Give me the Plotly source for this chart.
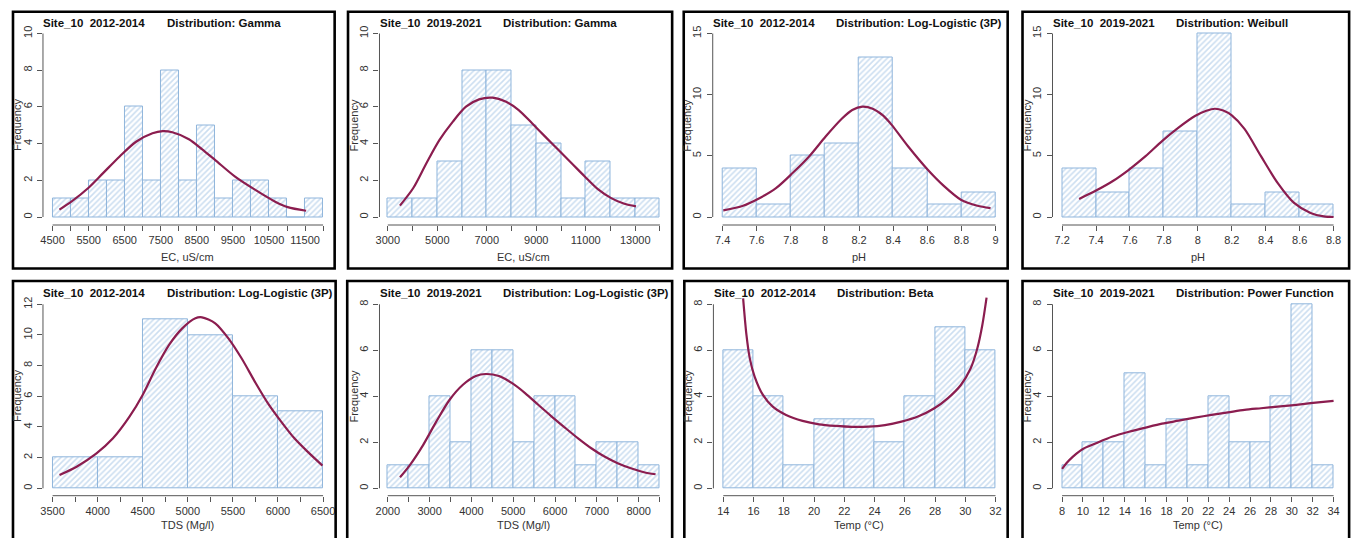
import plotly.graph_objects as go

# page body has an 8px default margin; figure is sized so it fills the 1371x538 window exactly
OFF = 8
W, H = 1371 - OFF, 538 - OFF

# ---------------- data ----------------
ec12_edges = [4500, 5000, 5500, 6000, 6500, 7000, 7500, 8000, 8500, 9000, 9500, 10000, 10500, 11000, 11500, 12000]
ec12_counts = [1, 1, 2, 2, 6, 2, 8, 2, 5, 1, 2, 2, 1, 0, 1]
ec12_curve_x = [4690, 5030, 5490, 5900, 6360, 6815, 7270, 7550, 7820, 8280, 8640, 9010, 9560, 10110, 10660, 11020, 11530]
ec12_curve_y = [0.40, 0.85, 1.58, 2.39, 3.30, 4.10, 4.56, 4.68, 4.62, 4.24, 3.70, 3.10, 2.20, 1.49, 0.85, 0.54, 0.34]

ec19_edges = [3000, 4000, 5000, 6000, 7000, 8000, 9000, 10000, 11000, 12000, 13000, 14000]
ec19_counts = [1, 1, 3, 8, 8, 5, 4, 1, 3, 1, 1]
ec19_curve_x = [3490, 4030, 4560, 5090, 5630, 6160, 6690, 7230, 7760, 8290, 8830, 9360, 9890, 10430, 10960, 11490, 12030, 12560, 13030]
ec19_curve_y = [0.62, 1.58, 2.93, 4.20, 5.20, 6.01, 6.41, 6.50, 6.29, 5.83, 5.11, 4.38, 3.66, 2.93, 2.21, 1.52, 1.03, 0.72, 0.58]

ph12_edges = [7.4, 7.6, 7.8, 8.0, 8.2, 8.4, 8.6, 8.8, 9.0]
ph12_counts = [4, 1, 5, 6, 13, 4, 1, 2]
ph12_curve_x = [7.404, 7.52, 7.607, 7.713, 7.81, 7.907, 8.004, 8.10, 8.16, 8.22, 8.28, 8.34, 8.39, 8.487, 8.603, 8.70, 8.797, 8.894, 8.971]
ph12_curve_y = [0.54, 0.92, 1.47, 2.36, 3.59, 4.95, 6.58, 8.05, 8.75, 9.02, 8.85, 8.30, 7.55, 5.78, 3.86, 2.50, 1.41, 0.92, 0.73]

ph19_edges = [7.2, 7.4, 7.6, 7.8, 8.0, 8.2, 8.4, 8.6, 8.8]
ph19_counts = [4, 2, 4, 7, 15, 1, 2, 1]
ph19_curve_x = [7.30, 7.40, 7.497, 7.595, 7.692, 7.789, 7.886, 7.983, 8.05, 8.10, 8.15, 8.20, 8.275, 8.372, 8.47, 8.567, 8.664, 8.742, 8.80]
ph19_curve_y = [1.48, 2.16, 2.92, 3.88, 4.97, 6.20, 7.30, 8.25, 8.68, 8.85, 8.70, 8.30, 7.20, 4.97, 2.79, 1.15, 0.33, 0.05, 0.0]

tds12_edges = [3500, 4000, 4500, 5000, 5500, 6000, 6500]
tds12_counts = [2, 2, 11, 10, 6, 5]
tds12_curve_x = [3577, 3767, 3987, 4170, 4353, 4499, 4645, 4792, 4938, 5084, 5157, 5304, 5450, 5596, 5743, 5889, 6035, 6182, 6328, 6493]
tds12_curve_y = [0.87, 1.41, 2.28, 3.26, 4.67, 6.09, 7.83, 9.35, 10.43, 11.09, 11.15, 10.76, 9.78, 8.48, 6.96, 5.54, 4.35, 3.26, 2.39, 1.48]

tds19_edges = [2000, 2500, 3000, 3500, 4000, 4500, 5000, 5500, 6000, 6500, 7000, 7500, 8000, 8500]
tds19_counts = [1, 1, 4, 2, 6, 6, 2, 4, 4, 1, 2, 2, 1]
tds19_curve_x = [2292, 2528, 2844, 3159, 3475, 3790, 4106, 4342, 4658, 4973, 5289, 5604, 5920, 6235, 6551, 6866, 7182, 7497, 7813, 8128, 8404]
tds19_curve_y = [0.48, 1.01, 1.88, 2.90, 3.84, 4.49, 4.88, 4.97, 4.88, 4.57, 4.13, 3.62, 3.12, 2.64, 2.17, 1.74, 1.38, 1.09, 0.87, 0.70, 0.61]

temp12_edges = [14, 16, 18, 20, 22, 24, 26, 28, 30, 32]
temp12_counts = [6, 4, 1, 3, 3, 2, 4, 7, 6]
temp12_curve_x = [15.31, 15.53, 15.75, 16.07, 16.62, 17.27, 18.15, 19.24, 20.33, 21.42, 22.51, 23.6, 24.69, 25.78, 26.87, 27.96, 28.84, 29.71, 30.36, 30.8, 31.13, 31.41]
temp12_curve_y = [8.26, 6.67, 5.65, 4.86, 4.06, 3.55, 3.19, 2.93, 2.78, 2.71, 2.67, 2.68, 2.75, 2.90, 3.12, 3.48, 3.91, 4.49, 5.22, 6.09, 7.10, 8.29]

temp19_edges = [8, 10, 12, 14, 16, 18, 20, 22, 24, 26, 28, 30, 32, 34]
temp19_counts = [1, 2, 2, 5, 1, 3, 1, 4, 2, 2, 4, 8, 1]
temp19_curve_x = [8.0, 8.41, 9.04, 9.99, 11.25, 12.83, 14.41, 16.0, 17.57, 19.15, 20.73, 22.31, 23.89, 25.47, 27.05, 28.63, 30.21, 31.79, 34.0]
temp19_curve_y = [0.84, 1.09, 1.38, 1.71, 1.96, 2.25, 2.46, 2.64, 2.81, 2.94, 3.07, 3.19, 3.30, 3.41, 3.48, 3.55, 3.62, 3.70, 3.80]

site_titles = ["Site_10\u00a0\u00a02012-2014", "Site_10\u00a0\u00a02019-2021", "Site_10\u00a0\u00a02012-2014", "Site_10\u00a0\u00a02019-2021",
               "Site_10\u00a0\u00a02012-2014", "Site_10\u00a0\u00a02019-2021", "Site_10\u00a0\u00a02012-2014", "Site_10\u00a0\u00a02019-2021"]
dist_titles = ["Distribution: Gamma", "Distribution: Gamma", "Distribution: Log-Logistic (3P)", "Distribution: Weibull",
               "Distribution: Log-Logistic (3P)", "Distribution: Log-Logistic (3P)", "Distribution: Beta", "Distribution: Power Function"]
x_titles = ["EC, uS/cm", "EC, uS/cm", "pH", "pH", "TDS (Mg/l)", "TDS (Mg/l)", "Temp (\u00b0C)", "Temp (\u00b0C)"]
y_title = "Frequency"

ec12_ticks = [4500, 5500, 6500, 7500, 8500, 9500, 10500, 11500]
ec12_minor = [4500, 5000, 5500, 6000, 6500, 7000, 7500, 8000, 8500, 9000, 9500, 10000, 10500, 11000, 11500, 12000]
ec19_ticks = [3000, 5000, 7000, 9000, 11000, 13000]
ec19_minor = [3000, 4000, 5000, 6000, 7000, 8000, 9000, 10000, 11000, 12000, 13000, 14000]
ph12_ticks = [7.4, 7.6, 7.8, 8.0, 8.2, 8.4, 8.6, 8.8, 9.0]
ph12_ticktext = ["7.4", "7.6", "7.8", "8", "8.2", "8.4", "8.6", "8.8", "9"]
ph19_ticks = [7.2, 7.4, 7.6, 7.8, 8.0, 8.2, 8.4, 8.6, 8.8]
ph19_ticktext = ["7.2", "7.4", "7.6", "7.8", "8", "8.2", "8.4", "8.6", "8.8"]
tds12_ticks = [3500, 4000, 4500, 5000, 5500, 6000, 6500]
tds12_minor = [3500, 3750, 4000, 4250, 4500, 4750, 5000, 5250, 5500, 5750, 6000, 6250, 6500]
tds19_ticks = [2000, 3000, 4000, 5000, 6000, 7000, 8000]
tds19_minor = [2000, 2500, 3000, 3500, 4000, 4500, 5000, 5500, 6000, 6500, 7000, 7500, 8000, 8500]
temp12_ticks = [14, 16, 18, 20, 22, 24, 26, 28, 30, 32]
temp19_ticks = [8, 10, 12, 14, 16, 18, 20, 22, 24, 26, 28, 30, 32, 34]

y_max = [10, 10, 15, 15, 12, 8, 8, 8]
y_dtick = [2, 2, 5, 5, 2, 2, 2, 2]

panels = [
    (ec12_edges, ec12_counts, ec12_curve_x, ec12_curve_y, ec12_ticks, [str(v) for v in ec12_ticks], ec12_minor),
    (ec19_edges, ec19_counts, ec19_curve_x, ec19_curve_y, ec19_ticks, [str(v) for v in ec19_ticks], ec19_minor),
    (ph12_edges, ph12_counts, ph12_curve_x, ph12_curve_y, ph12_ticks, ph12_ticktext, None),
    (ph19_edges, ph19_counts, ph19_curve_x, ph19_curve_y, ph19_ticks, ph19_ticktext, None),
    (tds12_edges, tds12_counts, tds12_curve_x, tds12_curve_y, tds12_ticks, [str(v) for v in tds12_ticks], tds12_minor),
    (tds19_edges, tds19_counts, tds19_curve_x, tds19_curve_y, tds19_ticks, [str(v) for v in tds19_ticks], tds19_minor),
    (temp12_edges, temp12_counts, temp12_curve_x, temp12_curve_y, temp12_ticks, [str(v) for v in temp12_ticks], None),
    (temp19_edges, temp19_counts, temp19_curve_x, temp19_curve_y, temp19_ticks, [str(v) for v in temp19_ticks], None),
]

# ---------------- layout geometry (window pixels) ----------------
col_px = [
    (39.3, 49.0, 322.3), (379.3, 387.7, 662.7), (716.0, 726.0, 1001.7), (1059.3, 1069.0, 1343.3),
    (39.3, 49.0, 322.3), (379.3, 387.7, 662.3), (716.7, 726.7, 1001.7), (1059.3, 1069.0, 1343.3),
]
row_px = [(225.0, 217.0, 33.5)] * 4 + [(495.7, 488.3, 304.3)] * 4
boxes = [
    (9, 11.7, 334, 268.5), (347.5, 11.7, 675, 268.5), (686.7, 11.7, 1014, 268.5), (1029, 11.7, 1359, 268.5),
    (9, 281, 335, 560), (346.7, 281, 675, 560), (687.3, 281, 1014, 560), (1029, 281, 1359, 560),
]


def px(x):
    return (x - OFF) / W


def py(y):
    return 1 - (y - OFF) / H


FONT = "Liberation Sans, Arial, sans-serif"
BAR_LINE = "#8fb5dc"
HATCH = "#9abee2"
CURVE = "#8b1d4f"
AXIS = "#555555"
TXT = "#333333"

fig = go.Figure()
shapes = []
annotations = []

for i, (edges, counts, cx, cy, tv, tt, minor) in enumerate(panels):
    n = i + 1
    xs = "x" if n == 1 else f"x{n}"
    ys = "y" if n == 1 else f"y{n}"
    xa_key = "xaxis" if n == 1 else f"xaxis{n}"
    ya_key = "yaxis" if n == 1 else f"yaxis{n}"

    widths = [edges[k + 1] - edges[k] for k in range(len(counts))]
    fig.add_trace(go.Bar(
        x=edges[:-1], y=counts, width=widths, offset=0,
        xaxis=xs, yaxis=ys,
        marker=dict(color="white",
                    line=dict(color=BAR_LINE, width=1),
                    pattern=dict(shape="/", fgcolor=HATCH, bgcolor="white", size=4, solidity=0.4, fillmode="overlay")),
        hoverinfo="skip",
    ))
    fig.add_trace(go.Scatter(
        x=cx, y=cy, mode="lines", xaxis=xs, yaxis=ys,
        line=dict(color=CURVE, width=2.2, shape="spline", smoothing=0.8),
        hoverinfo="skip", cliponaxis=False,
    ))

    ya_px, x0_px, x1_px = col_px[i]
    pax, p0, ptop = row_px[i]
    xmin, xmax = edges[0], edges[-1]
    s = (xmax - xmin) / (x1_px - x0_px)
    ymax = y_max[i]
    t = ymax / (p0 - ptop)
    top_px = ptop - 10
    xr = [xmin - (x0_px - ya_px) * s, xmax + 2 * s]
    yr = [-(pax - p0) * t, ymax + (ptop - top_px) * t]
    xdom = [px(ya_px), px(x1_px + 2)]
    ydom = [py(pax), py(top_px)]

    xaxis = dict(domain=xdom, range=xr, anchor=ys, showgrid=False, zeroline=False, showline=False,
                 tickmode="array", tickvals=tv, ticktext=tt, ticks="outside", ticklen=5, tickwidth=1,
                 tickcolor=AXIS, tickangle=0, tickfont=dict(family=FONT, size=11, color=TXT), fixedrange=True)
    if minor is not None:
        xaxis["minor"] = dict(tickmode="array", tickvals=minor, ticks="outside", ticklen=5, tickwidth=1,
                              tickcolor=AXIS, showgrid=False)
    yticks = list(range(0, ymax + 1, y_dtick[i]))
    yaxis = dict(domain=ydom, range=yr, anchor=xs, showgrid=False, zeroline=False, showline=False,
                 tickmode="array", tickvals=yticks, ticktext=[str(v) for v in yticks],
                 ticks="outside", ticklen=5, tickwidth=1, tickcolor=AXIS, tickangle=-90,
                 ticklabelstandoff=1,
                 tickfont=dict(family=FONT, size=11, color=TXT), fixedrange=True)
    fig.update_layout(**{xa_key: xaxis, ya_key: yaxis})

    # R-style detached axis lines
    shapes.append(dict(type="line", xref=xs, yref=f"{ys} domain", x0=xmin, x1=xmax, y0=0, y1=0,
                       line=dict(color=AXIS, width=1)))
    shapes.append(dict(type="line", xref=f"{xs} domain", yref=ys, x0=0, x1=0, y0=0, y1=ymax,
                       line=dict(color=AXIS, width=1)))
    # panel frame
    bx0, by0, bx1, by1 = boxes[i]
    shapes.append(dict(type="rect", xref="paper", yref="paper", x0=px(bx0), x1=px(bx1),
                       y0=py(by1), y1=py(by0), line=dict(color="black", width=2.6),
                       fillcolor="rgba(0,0,0,0)", layer="above"))

    title_y = 23 if i < 4 else 293.3
    annotations.append(dict(xref="paper", yref="paper", x=px(ya_px - 1.5), y=py(title_y),
                            xanchor="left", yanchor="middle", showarrow=False,
                            text=f"<b>{site_titles[i]}</b>", font=dict(family=FONT, size=11.5, color="#111")))
    annotations.append(dict(xref="paper", yref="paper", x=px(ya_px + 123), y=py(title_y),
                            xanchor="left", yanchor="middle", showarrow=False,
                            text=f"<b>{dist_titles[i]}</b>", font=dict(family=FONT, size=11.5, color="#111")))
    xt_y = 257 if i < 4 else 525
    annotations.append(dict(xref="paper", yref="paper", x=px((x0_px + x1_px) / 2), y=py(xt_y),
                            xanchor="center", yanchor="middle", showarrow=False,
                            text=x_titles[i], font=dict(family=FONT, size=11, color=TXT)))
    annotations.append(dict(xref="paper", yref="paper", x=px(ya_px - 25.5), y=py((p0 + ptop) / 2),
                            xanchor="center", yanchor="middle", showarrow=False, textangle=-90,
                            text=y_title, font=dict(family=FONT, size=11, color=TXT)))

fig.update_layout(
    width=W, height=H, margin=dict(l=0, r=0, t=0, b=0),
    paper_bgcolor="white", plot_bgcolor="white", showlegend=False,
    bargap=0, shapes=shapes, annotations=annotations,
)

fig.write_html("out.html")
